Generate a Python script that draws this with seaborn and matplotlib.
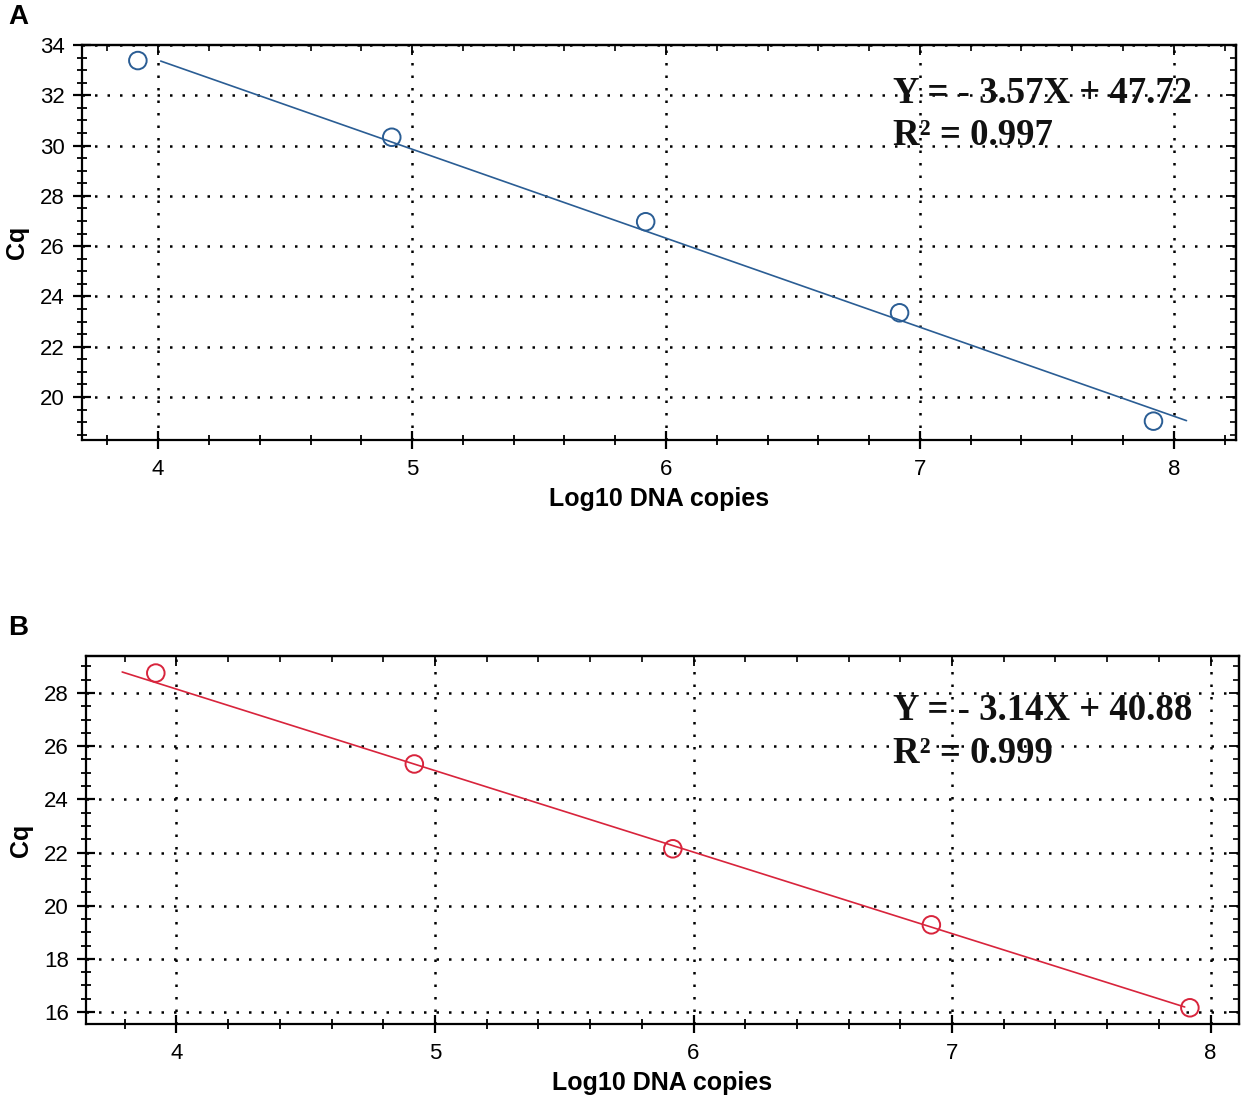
import matplotlib
matplotlib.use("Agg")
import matplotlib.pyplot as plt
from matplotlib.ticker import MultipleLocator
import pandas as pd
import seaborn as sns

# ---- data ----
log_copies = [3.92, 4.92, 5.92, 6.92, 7.92]
cq_a = [33.38, 30.33, 26.97, 23.35, 19.04]
cq_b = [28.75, 25.33, 22.14, 19.28, 16.16]

# fitted standard curves (end points of the drawn lines)
fit_a_x = [4.01, 8.05]
fit_a_y = [33.36, 19.06]
fit_b_x = [3.79, 7.90]
fit_b_y = [28.79, 16.19]

eq_a = ["Y = - 3.57X + 47.72", "R\u00b2 = 0.997"]
eq_b = ["Y = - 3.14X + 40.88", "R\u00b2 = 0.999"]

blue = "#2a5d94"
red = "#d8243c"

sns.set_style("white")
plt.rcParams["font.family"] = ["Liberation Sans", "DejaVu Sans"]
plt.rcParams["text.color"] = "black"
plt.rcParams["axes.labelcolor"] = "black"
plt.rcParams["xtick.color"] = "black"
plt.rcParams["ytick.color"] = "black"

fig = plt.figure(figsize=(12.5, 11.05), dpi=100)
ax_a = fig.add_axes([0.0656, 0.6018, 0.9232, 0.3575])
ax_b = fig.add_axes([0.0688, 0.0733, 0.9224, 0.3330])


def draw_panel(ax, cq, fx, fy, color, eq, xlim, ylim, text_pos):
    df = pd.DataFrame({"x": log_copies, "y": cq})
    line = pd.DataFrame({"x": fx, "y": fy})
    sns.lineplot(data=line, x="x", y="y", ax=ax, color=color, linewidth=1.2, zorder=3)
    sns.scatterplot(data=df, x="x", y="y", ax=ax, marker="o", s=160,
                    facecolors="none", edgecolor=color, linewidth=1.4, zorder=4)
    ax.set_xlim(*xlim)
    ax.set_ylim(*ylim)
    ax.xaxis.set_major_locator(MultipleLocator(1))
    ax.xaxis.set_minor_locator(MultipleLocator(0.2))
    ax.yaxis.set_major_locator(MultipleLocator(2))
    ax.yaxis.set_minor_locator(MultipleLocator(0.5))
    ax.set_axisbelow(True)
    ax.grid(True, which="major", color="black", linestyle=(0, (1, 4)), linewidth=1.8)
    for sp in ax.spines.values():
        sp.set_visible(True)
        sp.set_color("black")
        sp.set_linewidth(1.6)
    ax.tick_params(which="both", bottom=True, left=True, top=False, right=False)
    ax.tick_params(which="major", direction="inout", length=13, width=1.6,
                   labelsize=16, pad=6, colors="black")
    ax.tick_params(which="minor", direction="inout", length=7, width=1.3)
    ax.tick_params(axis="x", which="major", pad=7)

    # ticks pointing inward on the top and right frame
    top = ax.secondary_xaxis("top")
    top.xaxis.set_major_locator(MultipleLocator(1))
    top.xaxis.set_minor_locator(MultipleLocator(0.2))
    top.tick_params(which="both", top=True)
    top.tick_params(which="major", direction="in", length=7, width=1.3, labeltop=False)
    top.tick_params(which="minor", direction="in", length=4, width=1.2)
    right = ax.secondary_yaxis("right")
    right.yaxis.set_major_locator(MultipleLocator(2))
    right.yaxis.set_minor_locator(MultipleLocator(0.5))
    right.tick_params(which="both", right=True)
    right.tick_params(which="major", direction="in", length=7, width=1.3, labelright=False)
    right.tick_params(which="minor", direction="in", length=4, width=1.2)
    for sec in (top, right):
        for sp in sec.spines.values():
            sp.set_linewidth(1.6)

    ax.set_xlabel("Log10 DNA copies", fontsize=18, fontweight="bold", labelpad=5)
    ax.set_ylabel("Cq", fontsize=18, fontweight="bold", labelpad=8)

    tx, ty1, ty2 = text_pos
    for s, ty in zip(eq, (ty1, ty2)):
        ax.text(tx, ty, s, transform=ax.transAxes, va="baseline", ha="left",
                fontsize=26.5, fontweight="bold", family=["Liberation Serif", "DejaVu Serif"],
                color="#111111", zorder=5)


draw_panel(ax_a, cq_a, fit_a_x, fit_a_y, blue, eq_a, (3.70, 8.245), (18.29, 34.0),
           (0.703, 0.853, 0.747))
draw_panel(ax_b, cq_b, fit_b_x, fit_b_y, red, eq_b, (3.65, 8.11), (15.55, 29.39),
           (0.700, 0.826, 0.709))

fig.text(18 / 1250, 1 - 17 / 1105, "A", fontsize=20, fontweight="bold", ha="center", va="center")
fig.text(18 / 1250, 1 - 628 / 1105, "B", fontsize=20, fontweight="bold", ha="center", va="center")

fig.savefig("out.png", dpi=100)
